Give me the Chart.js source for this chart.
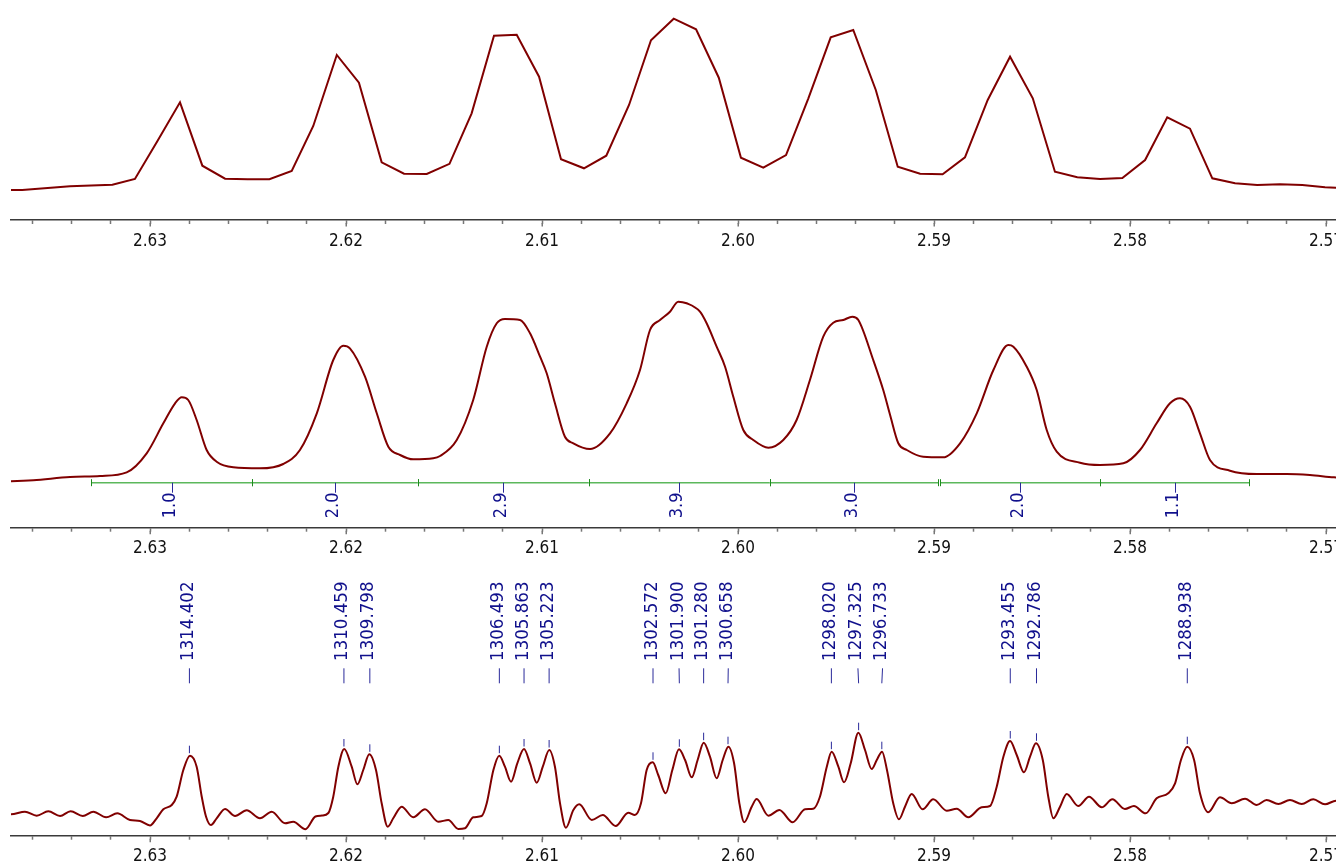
<!DOCTYPE html>
<html><head><meta charset="utf-8">
<script src="https://cdn.jsdelivr.net/npm/chart.js@4.4.1/dist/chart.umd.min.js"></script>
<style>
html,body{margin:0;padding:0;background:#fff;width:1336px;height:866px;overflow:hidden}
canvas{position:absolute;left:0}
</style></head><body>
<canvas id="c1" width="1336" height="262" style="top:0px"></canvas>
<canvas id="c2" width="1336" height="308" style="top:262px"></canvas>
<canvas id="c3" width="1336" height="296" style="top:570px"></canvas>
<script>
// ---------- axis ----------
const PPM_MAX = 2.637092;          // left edge of the window (ppm)
const PPM_MIN = 2.569490;          // right edge of the window (ppm)
const MAJOR_TICKS = [2.63, 2.62, 2.61, 2.60, 2.59, 2.58, 2.57];
const TICK_LABELS = ['2.63', '2.62', '2.61', '2.60', '2.59', '2.58', '2.57'];
const MINOR_STEP = 0.002;

// ---------- panel 1 : low resolution spectrum ----------
const PPM_1 = [2.63821, 2.63709, 2.63652, 2.63408, 2.63192, 2.63077, 2.62962, 2.62847, 2.62733, 2.62617,
               2.62502, 2.62391, 2.62277, 2.62167, 2.62047, 2.61934, 2.61818, 2.61704, 2.61588, 2.61472,
               2.61359, 2.61245, 2.61129, 2.61015, 2.60903, 2.60786, 2.60672, 2.60556, 2.60444, 2.60328,
               2.60214, 2.60098, 2.59985, 2.59871, 2.59755, 2.59641, 2.59527, 2.59412, 2.59297, 2.59185,
               2.59071, 2.58956, 2.58842, 2.58726, 2.58612, 2.58496, 2.58383, 2.58269, 2.58153, 2.58039,
               2.57923, 2.57810, 2.57694, 2.57580, 2.57464, 2.57351, 2.57235, 2.57121, 2.57005, 2.56893];
const INT_1 = [30, 30, 30, 33.7, 35.3, 41, 79, 117.7, 54.3, 41.3,
               40.7, 40.7, 49, 94, 165, 137.3, 57.7, 46.3, 46, 56.2,
               106.7, 184.3, 185.3, 143.3, 60.7, 51.7, 64.3, 115, 179.7, 201.3,
               190.7, 142.3, 62.3, 52.3, 65, 121.7, 182.7, 190, 130, 53.3,
               46.3, 45.7, 62.7, 120, 163.3, 121.7, 48.3, 42.7, 41, 42,
               60, 102.7, 91.3, 41.7, 36.7, 35, 35.7, 35, 32.7, 32];

// ---------- panel 2 : smoothed spectrum with integrals ----------
const PPM_2 = [2.63791, 2.63709, 2.63595, 2.63408, 2.63255, 2.63119, 2.63017, 2.62932, 2.62872, 2.62838,
               2.62805, 2.62762, 2.62711, 2.62660, 2.62575, 2.62439, 2.62320, 2.62235, 2.62149, 2.62065,
               2.62014, 2.61980, 2.61903, 2.61843, 2.61784, 2.61724, 2.61657, 2.61555, 2.61520, 2.61435,
               2.61351, 2.61282, 2.61231, 2.61189, 2.61112, 2.61061, 2.61010, 2.60976, 2.60934, 2.60883,
               2.60840, 2.60755, 2.60653, 2.60568, 2.60500, 2.60449, 2.60398, 2.60347, 2.60305, 2.60262,
               2.60194, 2.60160, 2.60109, 2.60066, 2.60024, 2.59973, 2.59922, 2.59845, 2.59769, 2.59701,
               2.59633, 2.59565, 2.59514, 2.59463, 2.59417, 2.59386, 2.59310, 2.59259, 2.59224, 2.59182,
               2.59139, 2.59055, 2.58953, 2.58867, 2.58782, 2.58697, 2.58621, 2.58595, 2.58527, 2.58476,
               2.58425, 2.58374, 2.58255, 2.58153, 2.58034, 2.57949, 2.57864, 2.57796, 2.57745, 2.57694,
               2.57643, 2.57592, 2.57490, 2.57354, 2.57201, 2.57082, 2.56959, 2.56878];
const INT_2 = [46.2, 46.4, 47.4, 50.7, 51.7, 55.4, 74.4, 104.4, 124.4, 130.4,
               127.7, 107.7, 77.7, 66, 60.4, 59.4, 63.7, 77.7, 114.4, 167.7,
               182, 179.4, 151, 114.4, 81, 72.7, 68.4, 69.4, 71.7, 87.7,
               127.7, 181, 204.4, 208.7, 207.7, 194.4, 171, 154.4, 124.4, 91,
               84.4, 78.7, 94.4, 124.4, 157.7, 197.7, 207.7, 216, 226, 224.4,
               216, 204.4, 181, 161, 131, 97.7, 87.7, 80, 87.7, 107.7,
               147.7, 191, 205, 207.7, 211, 207.7, 167.7, 137.7, 112.7, 84.4,
               77.7, 71, 70.4, 84.4, 114.4, 157.7, 182.7, 181, 161, 137.7,
               97.7, 76, 65, 62.7, 64.4, 77.7, 104.4, 124.4, 129.4, 121,
               94.4, 67.7, 57, 53.7, 53.7, 52.7, 50.4, 49.7];
const INTEGRAL_FROM   = [2.63301, 2.62478, 2.61634, 2.60762, 2.59838, 2.58968, 2.58152];
const INTEGRAL_TO     = [2.62478, 2.61634, 2.60762, 2.59838, 2.58978, 2.58152, 2.57391];
const INTEGRAL_VALUES = [1.0, 2.0, 2.9, 3.9, 3.0, 2.0, 1.1];
const INTEGRAL_LEVEL = 45;

// ---------- panel 3 : resolution enhanced spectrum with peak picking ----------
const PPM_3 = [2.63791, 2.63709, 2.63638, 2.63578, 2.63519, 2.63459, 2.63405, 2.63343, 2.63289, 2.63224,
               2.63167, 2.63102, 2.63051, 2.63000, 2.62966, 2.62932, 2.62889, 2.62864, 2.62830, 2.62796,
               2.62762, 2.62736, 2.62714, 2.62689, 2.62660, 2.62617, 2.62566, 2.62507, 2.62439, 2.62379,
               2.62311, 2.62269, 2.62207, 2.62156, 2.62122, 2.62090, 2.62065, 2.62039, 2.62009, 2.61971,
               2.61942, 2.61912, 2.61881, 2.61847, 2.61818, 2.61787, 2.61759, 2.61716, 2.61657, 2.61597,
               2.61529, 2.61478, 2.61427, 2.61393, 2.61351, 2.61308, 2.61282, 2.61248, 2.61218, 2.61189,
               2.61158, 2.61126, 2.61092, 2.61061, 2.61027, 2.60996, 2.60963, 2.60934, 2.60908, 2.60878,
               2.60840, 2.60810, 2.60746, 2.60690, 2.60624, 2.60560, 2.60526, 2.60495, 2.60466, 2.60435,
               2.60407, 2.60369, 2.60335, 2.60301, 2.60270, 2.60236, 2.60206, 2.60175, 2.60143, 2.60109,
               2.60078, 2.60049, 2.60020, 2.59993, 2.59968, 2.59930, 2.59905, 2.59845, 2.59789, 2.59721,
               2.59658, 2.59616, 2.59582, 2.59547, 2.59522, 2.59488, 2.59459, 2.59425, 2.59386, 2.59352,
               2.59318, 2.59292, 2.59265, 2.59240, 2.59208, 2.59179, 2.59148, 2.59114, 2.59058, 2.59004,
               2.58935, 2.58884, 2.58825, 2.58757, 2.58714, 2.58680, 2.58646, 2.58612, 2.58578, 2.58541,
               2.58510, 2.58480, 2.58445, 2.58417, 2.58391, 2.58357, 2.58323, 2.58264, 2.58209, 2.58144,
               2.58090, 2.58026, 2.57980, 2.57920, 2.57864, 2.57805, 2.57770, 2.57740, 2.57708, 2.57673,
               2.57643, 2.57601, 2.57541, 2.57481, 2.57413, 2.57354, 2.57303, 2.57243, 2.57184, 2.57124,
               2.57065, 2.57005, 2.56949, 2.56888];
const INT_3 = [22.7, 21.4, 24, 20, 24.4, 19.7, 24.4, 19.7, 24, 18.4,
               22.4, 15.7, 14.7, 10.2, 17.4, 26.4, 30.7, 39, 65.7, 80,
               69, 39, 19, 10.7, 17.4, 26.7, 19.7, 25.4, 17.4, 24,
               12.4, 14, 6.5, 19.2, 20.2, 22.7, 39, 69, 86.7, 69,
               51.4, 65.7, 81.4, 65.7, 32.4, 9, 17.4, 29, 18.4, 26.4,
               14, 15.7, 6.7, 7.4, 18.4, 19.7, 32.4, 65.7, 80, 69,
               54, 72.4, 86.7, 72.4, 53, 69, 85.7, 69, 32.4, 8,
               25.7, 31.4, 15.7, 20.7, 9.7, 23, 20.7, 32.4, 65.7, 73.4,
               60.7, 42.4, 65.7, 86.4, 75.7, 58.4, 75.7, 93, 79, 57.4,
               75.7, 89, 72.4, 32.4, 13.4, 29, 36.7, 20, 25.7, 13.4,
               26.4, 27, 39, 69, 84, 69, 53.4, 72.4, 103, 85.7,
               66.7, 75.7, 84, 65.7, 32.4, 16.4, 29, 41.7, 26.4, 36.4,
               25, 27, 18.4, 28.4, 29.7, 49, 79, 94.7, 80.7, 63.4,
               79, 92.4, 75.7, 39, 17.4, 29, 41.7, 29.7, 39, 28.4,
               36.4, 26.7, 29.7, 22.4, 37.4, 42.4, 52.4, 75.7, 89, 75.7,
               42.4, 23.4, 38.4, 32.4, 37, 30.7, 35.7, 31.7, 35.7, 31.7,
               36.4, 31.4, 35, 31.7];
const PEAK_HZ = [1314.402, 1310.459, 1309.798, 1306.493, 1305.863, 1305.223, 1302.572, 1301.900,
                 1301.280, 1300.658, 1298.020, 1297.325, 1296.733, 1293.455, 1292.786, 1288.938];
const SPECTROMETER_MHZ = 500.155;

// ---------- styling ----------
const FONT_FAMILY = "'DejaVu Sans Condensed', 'DejaVu Sans', sans-serif";
const LINE_COLOR = '#800000';
const BLUE = '#10108c';
const LABEL_GAP = 24.6;

function tickValues() {
  const out = [];
  for (let k = Math.ceil(PPM_MIN / MINOR_STEP - 1e-9); k * MINOR_STEP <= PPM_MAX + 1e-9; k++) out.push(+(k * MINOR_STEP).toFixed(4));
  return out;
}

function xAxis(axisHeight) {
  return {
    type: 'linear', reverse: true, min: PPM_MIN, max: PPM_MAX,
    afterBuildTicks: s => { s.ticks = tickValues().map(v => ({ value: v })); },
    afterFit: s => { s.paddingLeft = 0; s.paddingRight = 0; s.height = axisHeight; },
    border: { display: true, color: '#3a3a3a', width: 1.5 },
    grid: { display: true, drawOnChartArea: false, drawTicks: true, tickLength: 4, tickColor: '#777', tickWidth: 1.5 },
    ticks: {
      autoSkip: false, maxRotation: 0, minRotation: 0, padding: 7, color: '#111',
      font: { family: FONT_FAMILY, size: 17 },
      callback: v => { const i = MAJOR_TICKS.findIndex(m => Math.abs(m - v) < 1e-6); return i >= 0 ? TICK_LABELS[i] : ''; }
    }
  };
}

const majorTickPlugin = {
  id: 'majorTicks',
  afterDraw(chart) {
    const s = chart.scales.x, ctx = chart.ctx;
    ctx.save(); ctx.strokeStyle = '#777'; ctx.lineWidth = 1.5;
    MAJOR_TICKS.forEach(v => {
      const x = Math.round(s.getPixelForValue(v)) + 0.25;
      ctx.beginPath(); ctx.moveTo(x, s.top + 3); ctx.lineTo(x, s.top + 6.5); ctx.stroke();
    });
    ctx.restore();
  }
};

const integralPlugin = {
  id: 'integrals',
  afterDatasetsDraw(chart) {
    const xs = chart.scales.x, ys = chart.scales.y, ctx = chart.ctx;
    const yLine = ys.getPixelForValue(INTEGRAL_LEVEL);
    ctx.save();
    INTEGRAL_FROM.forEach((from, i) => {
      const x1 = xs.getPixelForValue(from), x2 = xs.getPixelForValue(INTEGRAL_TO[i]);
      ctx.strokeStyle = '#5cb85c'; ctx.lineWidth = 1.4;
      ctx.beginPath(); ctx.moveTo(x1, yLine); ctx.lineTo(x2, yLine); ctx.stroke();
      ctx.strokeStyle = '#1d8a1d'; ctx.lineWidth = 1;
      [x1, x2].forEach(x => {
        const xx = Math.round(x) + 0.5;
        ctx.beginPath(); ctx.moveTo(xx, yLine - 3.5); ctx.lineTo(xx, yLine + 3.5); ctx.stroke();
      });
      const xm = (x1 + x2) / 2;
      ctx.strokeStyle = '#2a2a9a';
      ctx.beginPath(); ctx.moveTo(Math.round(xm) + 0.5, yLine); ctx.lineTo(Math.round(xm) + 0.5, yLine + 10); ctx.stroke();
      ctx.save();
      ctx.translate(xm - 1.5, yLine + 9.8); ctx.rotate(-Math.PI / 2);
      ctx.fillStyle = BLUE; ctx.font = '18px ' + FONT_FAMILY;
      ctx.textAlign = 'right'; ctx.textBaseline = 'middle';
      ctx.fillText(INTEGRAL_VALUES[i].toFixed(1), 0, 0);
      ctx.restore();
    });
    ctx.restore();
  }
};

const peakPlugin = {
  id: 'peaks',
  afterDatasetsDraw(chart) {
    const xs = chart.scales.x, ys = chart.scales.y, ctx = chart.ctx;
    const peaks = PEAK_HZ.map(hz => {
      const ppm = hz / SPECTROMETER_MHZ;
      let best = -Infinity;
      PPM_3.forEach((p, i) => { if (Math.abs(p - ppm) < 0.0002 && INT_3[i] > best) best = INT_3[i]; });
      return { hz, px: xs.getPixelForValue(ppm), apex: ys.getPixelForValue(best) };
    }).sort((a, b) => a.px - b.px);
    const lx = peaks.map(p => p.px);
    for (let it = 0; it < 200; it++) {
      for (let i = 0; i < lx.length - 1; i++) {
        const d = lx[i + 1] - lx[i];
        if (d < LABEL_GAP) { const s = (LABEL_GAP - d) / 2; lx[i] -= s; lx[i + 1] += s; }
      }
    }
    ctx.save();
    ctx.strokeStyle = '#2a2a9a'; ctx.lineWidth = 1;
    peaks.forEach((p, i) => {
      ctx.beginPath(); ctx.moveTo(p.px, p.apex - 10); ctx.lineTo(p.px, p.apex - 2.5); ctx.stroke();
      ctx.beginPath(); ctx.moveTo(lx[i], 98.3); ctx.lineTo(p.px, 113.3); ctx.stroke();
      ctx.save();
      ctx.translate(lx[i] - 1.3, 11.5); ctx.rotate(-Math.PI / 2);
      ctx.fillStyle = BLUE; ctx.font = '18.5px ' + FONT_FAMILY;
      ctx.textAlign = 'right'; ctx.textBaseline = 'middle';
      ctx.fillText(p.hz.toFixed(3), 0, 0);
      ctx.restore();
    });
    ctx.restore();
  }
};

function makeChart(id, ppm, ints, yMax, axisHeight, smooth, extra) {
  const data = ppm.map((x, i) => ({ x, y: ints[i] }));
  return new Chart(document.getElementById(id), {
    type: 'line',
    data: { datasets: [{
      data, borderColor: LINE_COLOR, borderWidth: 2, pointRadius: 0, fill: false,
      tension: smooth ? 0.4 : 0, cubicInterpolationMode: smooth ? 'monotone' : 'default'
    }] },
    options: {
      responsive: false, animation: false, events: [],
      layout: { padding: { left: 11, right: 0, top: 0, bottom: 0 } },
      plugins: { legend: { display: false }, tooltip: { enabled: false } },
      scales: { x: xAxis(axisHeight), y: { display: false, min: 0, max: yMax } }
    },
    plugins: [majorTickPlugin].concat(extra || [])
  });
}

makeChart('c1', PPM_1, INT_1, 220, 42, false);
makeChart('c2', PPM_2, INT_2, 265.7, 42.3, true, [integralPlugin]);
makeChart('c3', PPM_3, INT_3, 265.7, 30.3, true, [peakPlugin]);
</script>
</body></html>
